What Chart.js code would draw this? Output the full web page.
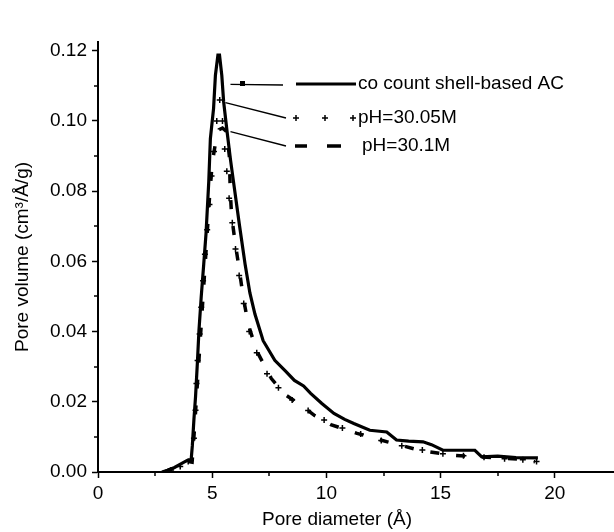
<!DOCTYPE html>
<html>
<head>
<meta charset="utf-8">
<title>Pore size distribution</title>
<script src="https://cdn.jsdelivr.net/npm/chart.js@4.4.1/dist/chart.umd.min.js"></script>
<style>
  html,body{margin:0;padding:0;background:#fff;}
  #wrap{width:614px;height:532px;}
</style>
</head>
<body>
<div id="wrap"><canvas id="chart" width="614" height="532"></canvas></div>
<script>
/* pore size distribution of three carbons */
const names = ['co count shell-based AC', 'pH=30.05M', 'pH=30.1M'];

// coconut shell AC (solid line)
const acX = [2.8, 3.05, 3.35, 3.65, 3.9, 4.08, 4.13, 4.2, 4.27, 4.35, 4.42, 4.52, 4.63, 4.73, 4.85, 4.92, 5.06, 5.14, 5.25, 5.32,
  5.42, 5.5, 5.65, 5.8, 5.93, 6.2, 6.44, 6.65, 6.87, 7.23, 7.74, 8.2, 8.6, 9.0, 9.31, 9.8, 10.33, 10.8, 11.2, 11.9,
  12.64, 13.07, 13.6, 14.23, 14.6, 15.1, 16.5, 16.8, 17.5, 18.3, 19.26];
const acY = [0, 0.0005, 0.0013, 0.0024, 0.0033, 0.0036, 0.0075, 0.015, 0.0214, 0.031, 0.0403, 0.05, 0.0593, 0.068, 0.0828, 0.095, 0.1036, 0.113, 0.1188, 0.1188,
  0.113, 0.1055, 0.097, 0.089, 0.0828, 0.07, 0.0592, 0.051, 0.045, 0.0374, 0.0318, 0.0288, 0.0261, 0.0245, 0.0224, 0.0195, 0.0167, 0.015, 0.0138, 0.0119,
  0.0114, 0.0091, 0.0088, 0.0086, 0.0078, 0.0062, 0.0062, 0.0043, 0.0045, 0.0041, 0.004];

// pH=30.05M (plus markers)
const p1X = [3.2, 3.6, 3.95, 4.2, 4.27, 4.31, 4.36, 4.45, 4.52, 4.6, 4.68, 4.78, 4.88, 4.97, 5.08, 5.2, 5.33, 5.45, 5.55, 5.64,
  5.74, 5.88, 6.02, 6.18, 6.38, 6.62, 6.95, 7.4, 7.9, 8.5, 9.2, 9.9, 10.7, 11.5, 12.4, 13.3, 14.2, 15.1, 16.0, 16.9,
  17.8, 18.6, 19.2];
const p1Y = [0.0006, 0.0016, 0.003, 0.0096, 0.0176, 0.0252, 0.0318, 0.0393, 0.0469, 0.0545, 0.062, 0.069, 0.0762, 0.0843, 0.0913, 0.1, 0.106, 0.1, 0.092, 0.0857,
  0.078, 0.071, 0.0635, 0.056, 0.048, 0.04, 0.034, 0.028, 0.024, 0.0205, 0.0175, 0.0148, 0.0125, 0.0108, 0.009, 0.0075, 0.0063, 0.0052, 0.0046, 0.0042,
  0.0038, 0.0035, 0.003];

// pH=30.1M (dashed line)
const p2X = [2.9, 3.1, 3.4, 3.7, 3.95, 4.12, 4.18, 4.3, 4.45, 4.6, 4.75, 4.88, 5.0, 5.15, 5.3, 5.45, 5.63, 5.75, 5.79, 5.85,
  5.95, 6.06, 6.2, 6.36, 6.58, 6.94, 7.59, 8.2, 8.85, 9.5, 10.19, 11.34, 12.0, 12.67, 14.08, 15.45, 16.8, 17.6, 18.55, 19.13];
const p2Y = [0, 0.0006, 0.0013, 0.0022, 0.003, 0.0028, 0.008, 0.02, 0.035, 0.05, 0.065, 0.078, 0.088, 0.094, 0.0975, 0.098, 0.097, 0.09, 0.08, 0.073,
  0.068, 0.063, 0.057, 0.0497, 0.042, 0.0346, 0.0266, 0.022, 0.0192, 0.016, 0.0135, 0.011, 0.0098, 0.0086, 0.0062, 0.0048, 0.0043, 0.004, 0.0036, 0.0029];

// axes
const xMin = 0, xMax = 22.35, xStep = 5;
const yMin = 0, yMax = 0.1225, yStep = 0.02;
const xMinor = [2.5, 7.5, 12.5, 17.5];
const yMinor = [0.01, 0.03, 0.05, 0.07, 0.09, 0.11];

const FONT = '"Liberation Sans", Arial, Helvetica, sans-serif';

function pts(xs, ys){ return xs.map((x,i)=>({x, y: ys[i]})); }

// minor ticks, x title, legend with leader lines
const decor = {
  id: 'decor',
  afterDraw(chart){
    const {ctx} = chart;
    const x = chart.scales.x, y = chart.scales.y;
    ctx.save();
    ctx.strokeStyle = '#000';
    // axis runs on to the edge of the picture
    ctx.lineWidth = 2;
    ctx.beginPath();
    ctx.moveTo(x.right - 1, y.bottom); ctx.lineTo(chart.width, y.bottom);
    ctx.stroke();

    ctx.lineWidth = 1.5;
    ctx.beginPath();
    xMinor.forEach(v=>{
      const px = Math.round(x.getPixelForValue(v));
      ctx.moveTo(px, y.bottom); ctx.lineTo(px, y.bottom + 4);
    });
    yMinor.forEach(v=>{
      const py = Math.round(y.getPixelForValue(v));
      ctx.moveTo(x.left, py); ctx.lineTo(x.left - 4, py);
    });
    ctx.stroke();

    ctx.fillStyle = '#000';
    ctx.font = '19px ' + FONT;
    ctx.textBaseline = 'middle';
    ctx.textAlign = 'center';
    ctx.fillText('Pore diameter (Å)', 337, 520);

    // leader lines from curves to the legend
    const leaders = [
      {from:[5.8, 0.1104], to:[283, 85]},
      {from:[5.58, 0.1052], to:[286, 118]},
      {from:[5.8, 0.097], to:[286, 146]}
    ];
    ctx.lineWidth = 1.3;
    ctx.beginPath();
    leaders.forEach(l=>{
      ctx.moveTo(x.getPixelForValue(l.from[0]), y.getPixelForValue(l.from[1]));
      ctx.lineTo(l.to[0], l.to[1]);
    });
    ctx.stroke();
    ctx.fillRect(240, 81, 5, 5);

    // samples
    ctx.lineWidth = 3;
    ctx.beginPath();
    ctx.moveTo(296, 84); ctx.lineTo(356, 84);
    ctx.stroke();
    ctx.lineWidth = 1.5;
    ctx.beginPath();
    [296, 325, 353].forEach(px=>{
      ctx.moveTo(px - 3, 118); ctx.lineTo(px + 3, 118);
      ctx.moveTo(px, 115); ctx.lineTo(px, 121);
    });
    ctx.stroke();
    ctx.lineWidth = 3.5;
    ctx.beginPath();
    ctx.moveTo(295, 146); ctx.lineTo(307, 146);
    ctx.moveTo(327, 146); ctx.lineTo(341, 146);
    ctx.stroke();

    ctx.textAlign = 'left';
    ctx.fillText(names[0], 358, 84);
    ctx.fillText(names[1], 358, 118);
    ctx.fillText(names[2], 362, 146);
    ctx.restore();
  }
};

new Chart(document.getElementById('chart'), {
  type: 'scatter',
  data: {
    datasets: [
      { label: names[0], data: pts(acX, acY), showLine: true, borderColor: '#000', borderWidth: 3.2,
        pointRadius: 0, tension: 0 },
      { label: names[1], data: pts(p1X, p1Y), showLine: false, pointStyle: 'cross', pointRadius: 3,
        borderColor: '#000', backgroundColor: '#000', pointBorderWidth: 1.5 },
      { label: names[2], data: pts(p2X, p2Y), showLine: true, borderColor: '#000', borderWidth: 3.5,
        borderDash: [9, 17], pointRadius: 0, tension: 0 }
    ]
  },
  options: {
    responsive: false,
    animation: false,
    devicePixelRatio: 1,
    layout: { padding: { top: 42, right: 0, left: 0, bottom: 0 } },
    plugins: { legend: { display: false }, tooltip: { enabled: false } },
    scales: {
      x: {
        type: 'linear', min: xMin, max: xMax,
        border: { color: '#000', width: 2 },
        grid: { drawOnChartArea: false, tickLength: 6, tickColor: '#000', tickWidth: 1.5 },
        ticks: { stepSize: xStep, includeBounds: false, color: '#000', padding: 4,
          font: { family: FONT, size: 19 }, maxRotation: 0, callback: v => String(v) },
        afterFit: s => { s.height = 60; }
      },
      y: {
        type: 'linear', min: yMin, max: yMax,
        border: { color: '#000', width: 2 },
        grid: { drawOnChartArea: false, tickLength: 6, tickColor: '#000', tickWidth: 1.5 },
        ticks: { stepSize: yStep, includeBounds: false, color: '#000', padding: 5,
          font: { family: FONT, size: 19 }, callback: v => v.toFixed(2) },
        title: { display: true, text: 'Pore volume (cm³/Å/g)', color: '#000',
          font: { family: FONT, size: 19 }, padding: { top: 11, bottom: 0 } },
        afterFit: s => { s.width = 98; }
      }
    }
  },
  plugins: [decor]
});
</script>
</body>
</html>
